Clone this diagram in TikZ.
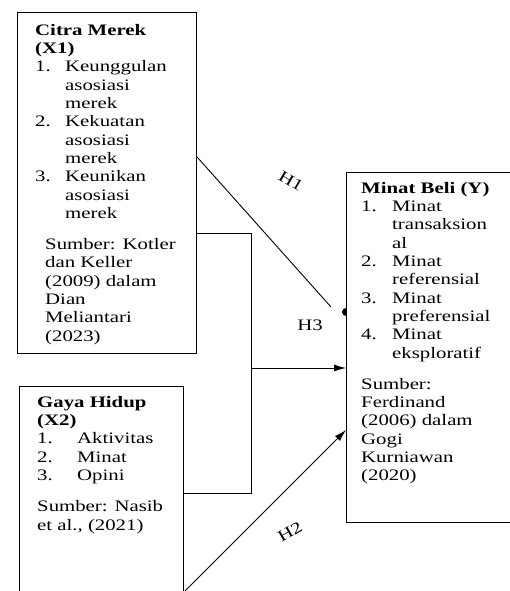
\documentclass[tikz,border=0pt]{standalone}
\usepackage{fontspec}
\setmainfont[FakeStretch=1.3]{Liberation Serif}
\usetikzlibrary{arrows.meta}
\begin{document}
\begin{tikzpicture}[x=1pt,y=-1pt,
  boxnode/.style={draw, line width=1.1pt, rectangle, anchor=north west, inner sep=0pt},
  txt/.style={anchor=north west, inner sep=0pt, align=left, font=\fontsize{16}{18.3}\selectfont},
  lbl/.style={inner sep=0pt, font=\fontsize{16}{18.3}\selectfont},
  conn/.style={line width=0.9pt},
  arr/.style={line width=0.9pt, -{Latex[length=12pt,width=7pt]}}]
\useasboundingbox (0,0) rectangle (510,591);
\begin{scope}
\clip (0,0) rectangle (510,591);
% boxes
\node[boxnode, minimum width=179pt, minimum height=341pt] (b1) at (17,12) {};
\node[boxnode, minimum width=164pt, minimum height=220pt] (b2) at (19,386) {};
\node[boxnode, minimum width=180pt, minimum height=350pt] (b3) at (346,172) {};
% texts
\node[txt] (t1) at (35,24) {\textbf{Citra Merek}\\
\textbf{(X1)}\\
\makebox[30pt][l]{1.}Keunggulan\\
\hspace*{30pt}asosiasi\\
\hspace*{30pt}merek\\
\makebox[30pt][l]{2.}Kekuatan\\
\hspace*{30pt}asosiasi\\
\hspace*{30pt}merek\\
\makebox[30pt][l]{3.}Keunikan\\
\hspace*{30pt}asosiasi\\
\hspace*{30pt}merek\\[13pt]
\hspace*{10pt}Sumber: Kotler\\
\hspace*{10pt}dan Keller\\
\hspace*{10pt}(2009) dalam\\
\hspace*{10pt}Dian\\
\hspace*{10pt}Meliantari\\
\hspace*{10pt}(2023)};
\node[txt] (t2) at (37,396) {\textbf{Gaya Hidup}\\
\textbf{(X2)}\\
\makebox[40pt][l]{1.}Aktivitas\\
\makebox[40pt][l]{2.}Minat\\
\makebox[40pt][l]{3.}Opini\\[13pt]
Sumber: Nasib\\
et al., (2021)};
\node[txt] (t3) at (361,182) {\textbf{Minat Beli (Y)}\\
\makebox[31pt][l]{1.}Minat\\
\hspace*{31pt}transaksion\\
\hspace*{31pt}al\\
\makebox[31pt][l]{2.}Minat\\
\hspace*{31pt}referensial\\
\makebox[31pt][l]{3.}Minat\\
\hspace*{31pt}preferensial\\
\makebox[31pt][l]{4.}Minat\\
\hspace*{31pt}eksploratif\\[13pt]
Sumber:\\
Ferdinand\\
(2006) dalam\\
Gogi\\
Kurniawan\\
(2020)};
% connectors
\coordinate (h1s) at (196,157);
\coordinate (h1e) at (331,307);
\draw[conn] (b1.east |- h1s) -- (h1e);
\fill (b3.west |- 0,316) arc[start angle=90, end angle=270, radius=4];
\coordinate (j1) at (251,233);
\coordinate (j2) at (251,493);
\coordinate (j3) at (251,368);
\draw[conn] (b1.east |- j1) -- (j1) -- (j2) -- (b2.east |- j2);
\draw[arr] (j3) -- (b3.west |- j3);
\coordinate (h2s) at (183,593);
\coordinate (h2e) at (345,430);
\draw[arr] (h2s) -- (b3.west |- h2e);
% labels
\node[lbl, rotate=-30] (l1) at (291,181) {H1};
\node[lbl] (l3) at (310,325) {H3};
\node[lbl, rotate=30] (l2) at (290,532) {H2};
\end{scope}
\end{tikzpicture}
\end{document}
